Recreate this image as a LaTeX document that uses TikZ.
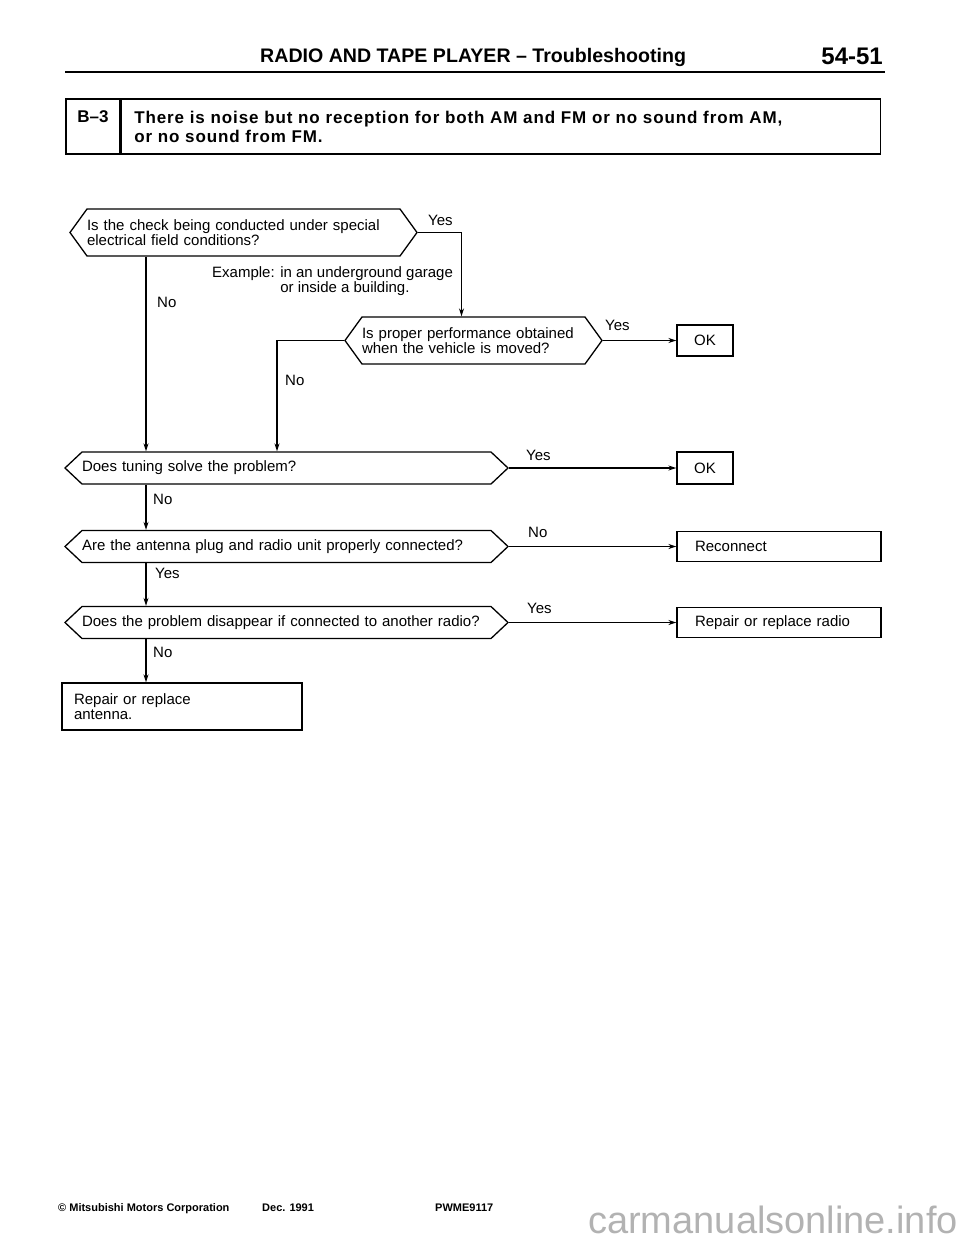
\documentclass[tikz,border=0pt]{standalone}
\usepackage{fontspec}
\setmainfont{Liberation Sans}
\newfontfamily\spacedfont[LetterSpace=5.3]{Liberation Sans}
\usepackage{tikz}
\usetikzlibrary{positioning,arrows.meta,shapes.symbols}
\newcommand\flowfont{\fontsize{15}{15.5}\selectfont}

\begin{document}
\begin{tikzpicture}[
    x=1pt, y=-1pt,
    ask/.style={shape=signal, signal to=west and east, draw, line width=1.3pt,
                inner xsep=0pt, inner ysep=0pt, align=left, font=\flowfont},
    asktall/.style={ask, minimum height=47pt, signal pointer angle=108.2},
    asklow/.style={ask, minimum height=32pt, signal pointer angle=86.5},
    result/.style={draw, line width=1.3pt, font=\flowfont, inner sep=0pt},
    lbl/.style={font=\flowfont, inner sep=0pt, anchor=base west},
    arrow/.style={-{Stealth[length=8pt,width=5pt]}, line width=1.2pt}
]
  \useasboundingbox (0,0) rectangle (960,1239);

  % Page header
  \node[anchor=base west, inner sep=0pt, font=\bfseries\fontsize{19.6}{19.6}\selectfont] (title) at (260,63) {RADIO AND TAPE PLAYER – Troubleshooting};
  \node[anchor=base east, inner sep=0pt, font=\bfseries\fontsize{24}{24}\selectfont] (page) at (883,65) {54-51};
  \draw[line width=2.5pt] (65,72) -- (885,72);

  % Symptom box
  \node[draw, line width=1.3pt, minimum width=54pt, minimum height=55pt, inner sep=0pt, align=center,
        font=\bfseries\fontsize{17}{19}\selectfont] (code) at (93,126.5) {B–3\\\mbox{}};
  \node[draw, line width=1.3pt, minimum height=55pt, inner xsep=13pt, inner ysep=0pt, text width=733pt, align=left,
        font=\spacedfont\bfseries\fontsize{17}{19}\selectfont, right=0pt of code] (symptom)
        {There is noise but no reception for both AM and FM or no sound from AM,\\or no sound from FM.};

  % Checks
  \node[asktall, text width=313pt] (field) at (243.5,232.5) {Is the check being conducted under special\\electrical field conditions?};
  \node[asktall, text width=223pt] (move) at (473.5,340.5) {Is proper performance obtained\\when the vehicle is moved?};
  \node[asklow, text width=409pt] (tune) at (286.5,468) {Does tuning solve the problem?};
  \node[asklow, text width=409pt] (plug) at (286.5,546.5) {Are the antenna plug and radio unit properly connected?};
  \node[asklow, text width=409pt] (other) at (286.5,622.5) {Does the problem disappear if connected to another radio?};

  \node[lbl, anchor=north west, align=left] (example) at (212,266) {Example: in an underground garage\\\phantom{Example: }or inside a building.};

  % Results
  \node[result, minimum width=56pt, minimum height=31pt] (ok1) at (705,340.5) {OK};
  \node[result, minimum width=56pt, minimum height=32pt] (ok2) at (705,468) {OK};
  \node[result, minimum height=30pt, inner xsep=18pt, text width=168pt, align=left] (recon) at (779,546.5) {Reconnect};
  \node[result, minimum height=30pt, inner xsep=18pt, text width=168pt, align=left] (radio) at (779,622.5) {Repair or replace radio};
  \node[result, minimum height=47pt, inner xsep=12pt, text width=216pt, align=left] (ant) at (182,706.5) {Repair or replace\\antenna.};

  % Connectors
  \coordinate (trunk) at (146,0);
  \coordinate (side) at (277,0);
  \draw[arrow] (field.east) -| ([xshift=-12pt]move.north);
  \draw[arrow] (field.south -| trunk) -- (tune.north -| trunk);
  \draw[arrow] (move.west) -| (tune.north -| side);
  \draw[arrow] (move.east) -- (ok1.west);
  \draw[arrow] (tune.east) -- (ok2.west);
  \draw[arrow] (tune.south -| trunk) -- (plug.north -| trunk);
  \draw[arrow] (plug.east) -- (recon.west);
  \draw[arrow] (plug.south -| trunk) -- (other.north -| trunk);
  \draw[arrow] (other.east) -- (radio.west);
  \draw[arrow] (other.south -| trunk) -- (ant.north -| trunk);

  % Branch labels
  \node[lbl] (yes1) at (428,225) {Yes};
  \node[lbl] (no1) at (157,307) {No};
  \node[lbl] (yes2) at (605,330) {Yes};
  \node[lbl] (no2) at (285,385) {No};
  \node[lbl] (yes3) at (526,460) {Yes};
  \node[lbl] (no3) at (153,504) {No};
  \node[lbl] (no4) at (528,537) {No};
  \node[lbl] (yes4) at (155,578) {Yes};
  \node[lbl] (yes5) at (527,613) {Yes};
  \node[lbl] (no5) at (153,657) {No};

  % Footer
  \node[anchor=base west, inner sep=0pt, font=\bfseries\fontsize{11}{11}\selectfont] (corp) at (58,1211) {© Mitsubishi Motors Corporation};
  \node[anchor=base west, inner sep=0pt, font=\bfseries\fontsize{11}{11}\selectfont] (date) at (262,1211) {Dec. 1991};
  \node[anchor=base west, inner sep=0pt, font=\bfseries\fontsize{11}{11}\selectfont] (pub) at (435,1211) {PWME9117};
  \node[anchor=base west, inner sep=0pt, text=black!30, font=\fontsize{38}{38}\selectfont] (mark) at (588,1233) {carmanualsonline.info};
\end{tikzpicture}
\end{document}
